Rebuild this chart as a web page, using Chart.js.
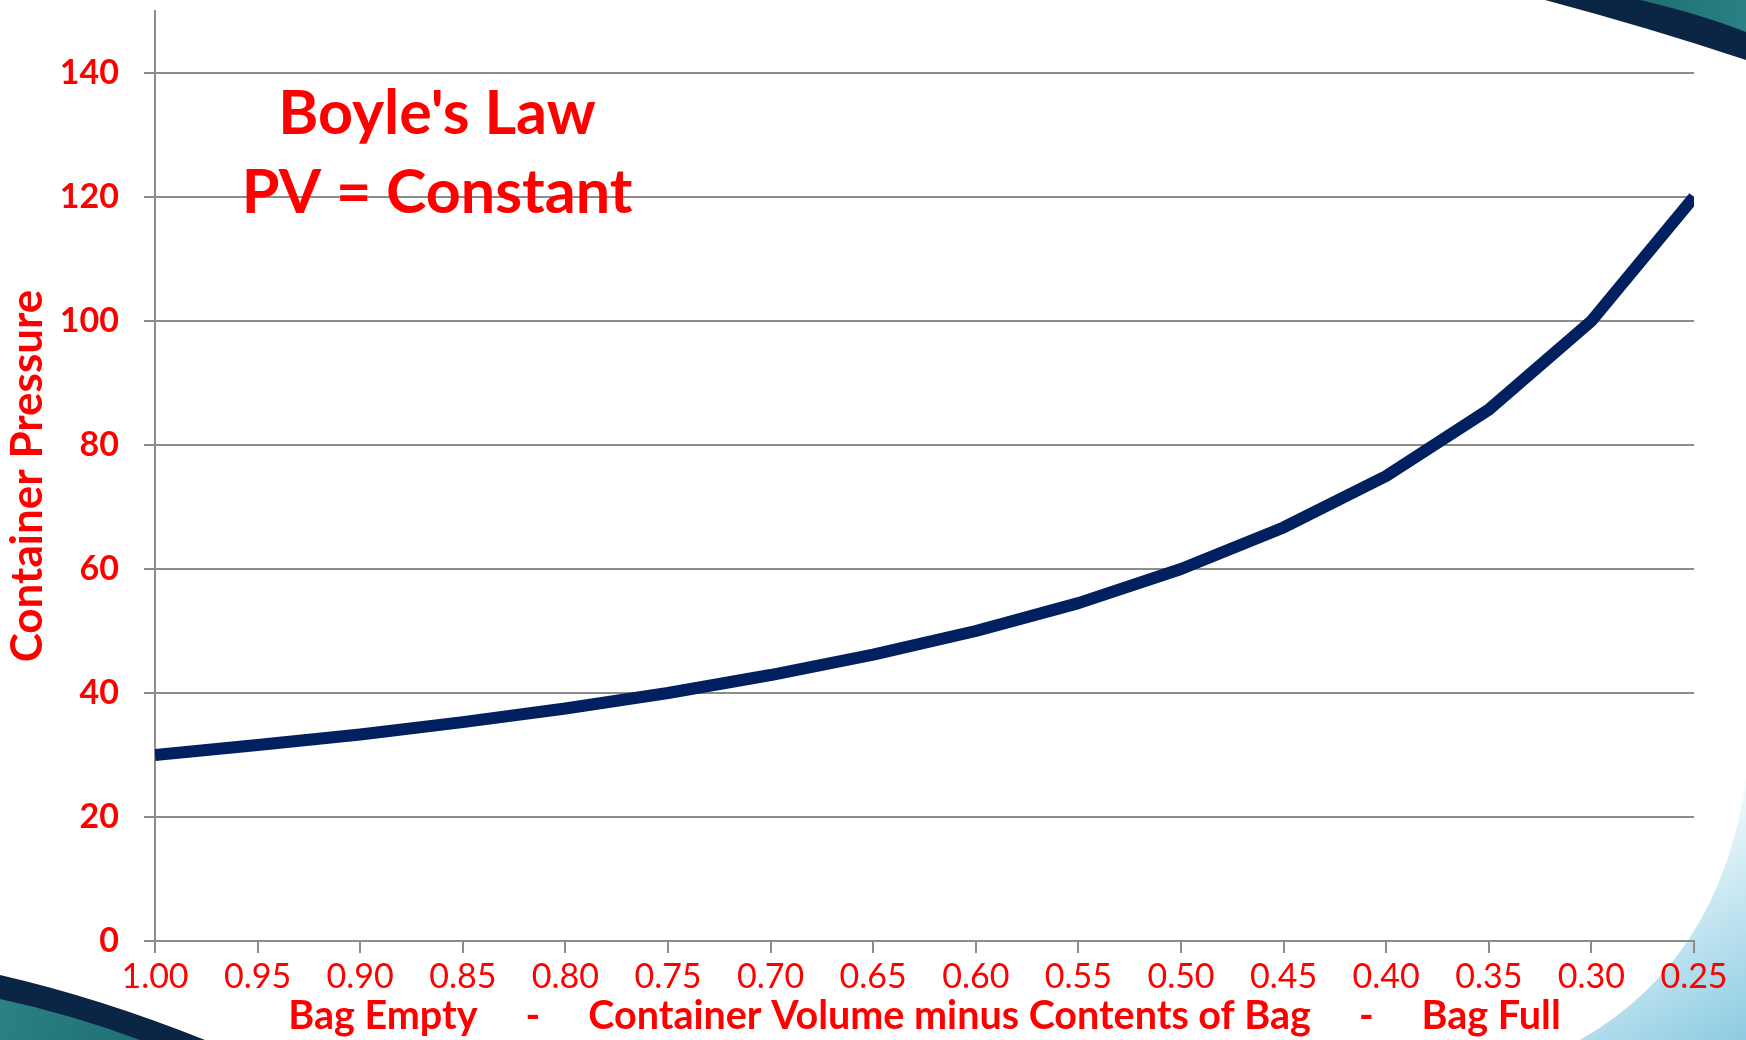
<!DOCTYPE html>
<html>
<head>
<meta charset="utf-8">
<title>Boyle's Law</title>
<script src="https://cdn.jsdelivr.net/npm/chart.js@4"></script>
<style>
  html, body { margin: 0; padding: 0; background: #fff; overflow: hidden; }
  #wrap { width: 1746px; height: 1040px; position: relative; }
</style>
</head>
<body>
<div id="wrap"><canvas id="grafico" width="1746" height="1040"></canvas></div>
<script>
// volume left in the container (fraction)
const volumes = ['1.00', '0.95', '0.90', '0.85', '0.80', '0.75', '0.70', '0.65',
                 '0.60', '0.55', '0.50', '0.45', '0.40', '0.35', '0.30', '0.25'];
// pressure
const pressures = [30, 31.6, 33.3, 35.3, 37.5, 40, 42.9, 46.2,
                   50, 54.5, 60, 66.7, 75, 85.7, 100, 120];
const yTicks = [0, 20, 40, 60, 80, 100, 120, 140];
const titleLines = ["Boyle's Law", 'PV = Constant'];
const xTitle = 'Bag Empty     -     Container Volume minus Contents of Bag     -     Bag Full';
const yTitle = 'Container Pressure';

const red = '#ff0000';
const gridGray = '#8c8c8c';

// slide background swooshes
const fundo = {
    id: 'fundo',
    beforeDraw(chart) {
        const ctx = chart.ctx;
        ctx.save();
        ctx.fillStyle = '#fff';
        ctx.fillRect(0, 0, chart.width, chart.height);

        // top right
        ctx.fillStyle = '#0b2545';
        ctx.beginPath();
        ctx.moveTo(1545, 0);
        ctx.quadraticCurveTo(1650, 28, 1746, 60);
        ctx.lineTo(1746, 0);
        ctx.closePath();
        ctx.fill();
        let g = ctx.createLinearGradient(1640, 0, 1746, 30);
        g.addColorStop(0, '#1f6f74');
        g.addColorStop(1, '#2b8184');
        ctx.fillStyle = g;
        ctx.beginPath();
        ctx.moveTo(1640, 0);
        ctx.quadraticCurveTo(1700, 14, 1746, 32);
        ctx.lineTo(1746, 0);
        ctx.closePath();
        ctx.fill();

        // bottom left
        ctx.fillStyle = '#0b2545';
        ctx.beginPath();
        ctx.moveTo(0, 975);
        ctx.quadraticCurveTo(100, 998, 205, 1040);
        ctx.lineTo(0, 1040);
        ctx.closePath();
        ctx.fill();
        g = ctx.createLinearGradient(0, 1000, 140, 1040);
        g.addColorStop(0, '#2b8184');
        g.addColorStop(1, '#1f6f74');
        ctx.fillStyle = g;
        ctx.beginPath();
        ctx.moveTo(0, 999);
        ctx.quadraticCurveTo(70, 1014, 140, 1040);
        ctx.lineTo(0, 1040);
        ctx.closePath();
        ctx.fill();

        // bottom right light blue
        g = ctx.createLinearGradient(1640, 850, 1746, 1040);
        g.addColorStop(0, '#eef9fc');
        g.addColorStop(1, '#8ccbe2');
        ctx.fillStyle = g;
        ctx.beginPath();
        ctx.moveTo(1746, 780);
        ctx.quadraticCurveTo(1720, 960, 1580, 1040);
        ctx.lineTo(1746, 1040);
        ctx.closePath();
        ctx.fill();
        ctx.restore();
    },
    afterDraw(chart) {
        const ctx = chart.ctx;
        ctx.save();
        ctx.fillStyle = red;
        ctx.font = 'bold 61px Lato';
        ctx.textAlign = 'center';
        ctx.textBaseline = 'alphabetic';
        ctx.fillText(titleLines[0], 437, 134);
        ctx.fillText(titleLines[1], 437, 213);
        ctx.restore();
    }
};

new Chart(document.getElementById('grafico'), {
    type: 'line',
    data: {
        labels: volumes,
        datasets: [{
            label: 'Pressure',
            data: pressures,
            borderColor: '#002060',
            borderWidth: 12,
            borderJoinStyle: 'round',
            pointRadius: 0,
            fill: false,
            tension: 0,
            clip: 0
        }]
    },
    options: {
        responsive: false,
        animation: false,
        layout: { padding: { top: 11, right: 52, left: 0, bottom: 0 } },
        plugins: {
            legend: { display: false },
            tooltip: { enabled: false }
        },
        scales: {
            x: {
                offset: false,
                afterFit(scale) { scale.height = 99; },
                grid: { drawOnChartArea: false, color: gridGray, lineWidth: 2, tickLength: 12 },
                border: { color: gridGray, width: 2 },
                ticks: {
                    color: red,
                    font: { family: 'Lato', size: 34 },
                    maxRotation: 0,
                    autoSkip: false,
                    padding: 4
                },
                title: {
                    display: true,
                    text: xTitle,
                    color: red,
                    font: { family: 'Lato', size: 39.5, weight: 'bold' },
                    padding: { top: 0, bottom: 0 }
                }
            },
            y: {
                min: 0,
                max: 150,
                afterFit(scale) {
                    scale.width = 155;
                    scale.paddingTop = 0;
                    scale.paddingBottom = 0;
                },
                afterBuildTicks(scale) { scale.ticks = yTicks.map(v => ({ value: v })); },
                grid: { color: gridGray, lineWidth: 2, tickLength: 11 },
                border: { color: gridGray, width: 2 },
                ticks: {
                    color: red,
                    font: { family: 'Lato', size: 34, weight: 'bold' },
                    padding: 25
                },
                title: {
                    display: true,
                    text: yTitle,
                    color: red,
                    font: { family: 'Lato', size: 44, weight: 'bold' },
                    padding: { top: 1, bottom: 0 }
                }
            }
        }
    },
    plugins: [fundo]
});
</script>
</body>
</html>
